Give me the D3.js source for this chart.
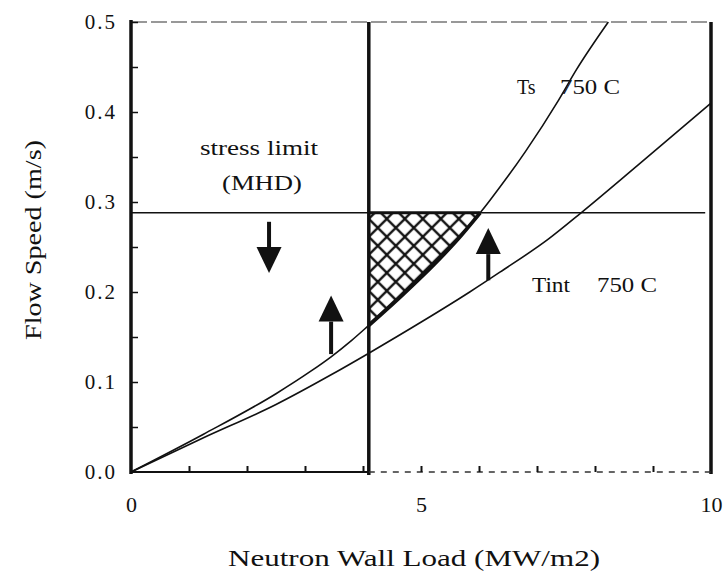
<!DOCTYPE html>
<html>
<head>
<meta charset="utf-8">
<script src="https://cdn.jsdelivr.net/npm/d3@7"></script>
<style>
  html, body { margin: 0; padding: 0; background: #fff; }
  svg { display: block; }
  text { font-family: "Liberation Serif", "DejaVu Serif", serif; fill: #111; }
</style>
</head>
<body>
<svg id="chart" width="728" height="576"></svg>
<script>
// Neutron wall load (MW/m2) vs. required coolant flow speed (m/s)
// Curve A: surface temperature limit, curve B: interface temperature limit
const loadA  = [0, 1.25, 2.5, 3.1, 3.45, 3.8, 4.1, 4.65, 5.2, 5.6, 6.02, 6.19, 6.8, 7.37, 7.68, 8.23];
const speedA = [0, 0.042, 0.087, 0.112, 0.128, 0.146, 0.163, 0.195, 0.229, 0.256, 0.288, 0.302, 0.356, 0.413, 0.447, 0.5];

const loadB  = [0, 1.25, 2.5, 3.45, 4.1, 5.04, 5.84, 6.36, 7.2, 7.76, 8.74, 10];
const speedB = [0, 0.038, 0.075, 0.108, 0.132, 0.168, 0.2, 0.222, 0.259, 0.288, 0.341, 0.41];

const stressLimit = 0.288;   // MHD stress limit on flow speed
const minLoad = 4.1;         // minimum wall load line
const windowMaxLoad = 6.02;  // where curve A meets the stress limit

const yTickLabels = [0, 0.1, 0.2, 0.3, 0.4, 0.5];
const yMinorTicks = [0.05, 0.1, 0.15, 0.2, 0.25, 0.3, 0.35, 0.4, 0.45, 0.5];
const xTickLabels = [0, 5, 10];
const xMinorTicks = [1, 2, 3, 4, 5, 6, 7, 8, 9];

// arrows: [load, from speed, to speed]
const arrowLoad = [2.38, 3.45, 6.16];
const arrowFrom = [0.278, 0.131, 0.213];
const arrowTo   = [0.221, 0.196, 0.271];

const svg = d3.select("#chart");
const x = d3.scaleLinear().domain([0, 10]).range([131, 711]);
const y = d3.scaleLinear().domain([0, 0.5]).range([472, 22]);

const curveA = loadA.map((d, i) => [d, speedA[i]]);
const curveB = loadB.map((d, i) => [d, speedB[i]]);

// cross-hatch pattern for the allowed window
const P = 18;
const defs = svg.append("defs");
const pat = defs.append("pattern")
  .attr("id", "xhatch").attr("patternUnits", "userSpaceOnUse")
  .attr("x", x(minLoad)).attr("y", y(stressLimit) + 6)
  .attr("width", P).attr("height", P);
pat.append("path")
  .attr("d", `M0,0 L${P},${P} M${P},0 L0,${P} M-3,${P-3} L3,${P+3} M${P-3},-3 L${P+3},3 M${P-3},${P+3} L${P+3},${P-3} M-3,3 L3,-3`)
  .attr("stroke", "#111").attr("stroke-width", 2.3).attr("fill", "none");

// allowed region: above min load, below stress limit, above curve A
const windowPts = curveA.filter(d => d[0] >= minLoad && d[0] <= windowMaxLoad);
svg.append("path")
  .datum(windowPts)
  .attr("d", d3.area().x(d => x(d[0])).y0(y(stressLimit)).y1(d => y(d[1])).curve(d3.curveMonotoneX))
  .attr("fill", "url(#xhatch)");

// curves
const line = d3.line().x(d => x(d[0])).y(d => y(d[1])).curve(d3.curveMonotoneX);
svg.append("path").datum(curveB).attr("d", line)
  .attr("fill", "none").attr("stroke", "#111").attr("stroke-width", 1.6);
svg.append("path").datum(curveA).attr("d", line)
  .attr("fill", "none").attr("stroke", "#111").attr("stroke-width", 1.6);
svg.append("path").datum(windowPts).attr("d", line)
  .attr("fill", "none").attr("stroke", "#111").attr("stroke-width", 3.8);

// stress limit line
svg.append("line")
  .attr("x1", x(0)).attr("x2", x(9.9)).attr("y1", y(stressLimit)).attr("y2", y(stressLimit))
  .attr("stroke", "#111").attr("stroke-width", 1.5);
svg.append("line")
  .attr("x1", x(minLoad)).attr("x2", x(windowMaxLoad)).attr("y1", y(stressLimit)).attr("y2", y(stressLimit))
  .attr("stroke", "#111").attr("stroke-width", 3);

// minimum load line
svg.append("line")
  .attr("x1", x(minLoad)).attr("x2", x(minLoad)).attr("y1", y(0.5)).attr("y2", y(0) + 3)
  .attr("stroke", "#111").attr("stroke-width", 3.5);

// frame
svg.append("line").attr("x1", x(0)).attr("x2", x(10)).attr("y1", y(0.5)).attr("y2", y(0.5))
  .attr("stroke", "#333").attr("stroke-width", 1.2).attr("stroke-dasharray", "16,4");
svg.append("line").attr("x1", x(10)).attr("x2", x(10)).attr("y1", y(0.5)).attr("y2", y(0) + 2)
  .attr("stroke", "#111").attr("stroke-width", 3.5);
svg.append("line").attr("x1", x(0)).attr("x2", x(minLoad)).attr("y1", y(0)).attr("y2", y(0))
  .attr("stroke", "#111").attr("stroke-width", 2.2);
svg.append("line").attr("x1", x(minLoad)).attr("x2", x(10)).attr("y1", y(0)).attr("y2", y(0))
  .attr("stroke", "#333").attr("stroke-width", 1.5).attr("stroke-dasharray", "6,6");
svg.append("line").attr("x1", x(0)).attr("x2", x(0)).attr("y1", y(0.5) - 2).attr("y2", y(0) + 2)
  .attr("stroke", "#111").attr("stroke-width", 3.5);

// minor ticks (inward)
const yMinor = svg.append("g").attr("transform", `translate(${x(0)},0)`)
  .call(d3.axisLeft(y).tickValues(yMinorTicks).tickSize(-7).tickFormat(""));
yMinor.select(".domain").remove();
yMinor.selectAll("line").attr("stroke", "#111").attr("stroke-width", 1.5);

const xMinor = svg.append("g").attr("transform", `translate(0,${y(0)})`)
  .call(d3.axisBottom(x).tickValues(xMinorTicks).tickSize(-6).tickFormat(""));
xMinor.select(".domain").remove();
xMinor.selectAll("line").attr("stroke", "#111").attr("stroke-width", 2);

// tick labels
const yLab = svg.append("g").attr("transform", `translate(${x(0)},0)`)
  .call(d3.axisLeft(y).tickValues(yTickLabels).tickSize(0).tickPadding(14).tickFormat(d3.format(".1f")));
yLab.select(".domain").remove();
yLab.selectAll("text").attr("font-size", 21).attr("letter-spacing", 2)
  .attr("font-family", "Liberation Serif").attr("fill", "#111");

const xLab = svg.append("g").attr("transform", `translate(0,${y(0)})`)
  .call(d3.axisBottom(x).tickValues(xTickLabels).tickSize(0).tickPadding(24));
xLab.select(".domain").remove();
xLab.selectAll("text").attr("font-size", 22)
  .attr("font-family", "Liberation Serif").attr("fill", "#111");

// axis titles
svg.append("text")
  .attr("x", 414).attr("y", 566).attr("text-anchor", "middle")
  .attr("font-size", 23).attr("textLength", 372).attr("lengthAdjust", "spacingAndGlyphs")
  .text("Neutron Wall Load (MW/m2)");
svg.append("text")
  .attr("transform", "translate(41,240) rotate(-90)")
  .attr("text-anchor", "middle")
  .attr("font-size", 24).attr("textLength", 200).attr("lengthAdjust", "spacingAndGlyphs")
  .text("Flow Speed (m/s)");

// annotations
svg.append("text").attr("x", 200).attr("y", 155)
  .attr("font-size", 20).attr("textLength", 118).attr("lengthAdjust", "spacingAndGlyphs")
  .text("stress limit");
svg.append("text").attr("x", 222).attr("y", 190)
  .attr("font-size", 21).attr("textLength", 80).attr("lengthAdjust", "spacingAndGlyphs")
  .text("(MHD)");

const tsLab = svg.append("text").attr("y", 94).attr("font-size", 20);
tsLab.append("tspan").attr("x", 517).text("Ts");
tsLab.append("tspan").attr("x", 560).attr("textLength", 60).attr("lengthAdjust", "spacingAndGlyphs").text("750 C");

const tiLab = svg.append("text").attr("y", 292).attr("font-size", 20);
tiLab.append("tspan").attr("x", 532).attr("textLength", 38).attr("lengthAdjust", "spacingAndGlyphs").text("Tint");
tiLab.append("tspan").attr("x", 597).attr("textLength", 60).attr("lengthAdjust", "spacingAndGlyphs").text("750 C");

// arrows
const headLen = 26, headHalf = 12.5;
arrowLoad.forEach((ld, i) => {
  const px = x(ld), p0 = y(arrowFrom[i]), p1 = y(arrowTo[i]);
  const dir = p1 < p0 ? -1 : 1;   // -1 points up
  const base = p1 - dir * headLen;
  svg.append("line").attr("x1", px).attr("x2", px).attr("y1", p0).attr("y2", base)
    .attr("stroke", "#111").attr("stroke-width", 4);
  svg.append("path")
    .attr("d", `M${px - headHalf},${base} L${px + headHalf},${base} L${px},${p1} Z`)
    .attr("fill", "#111");
});
</script>
</body>
</html>
